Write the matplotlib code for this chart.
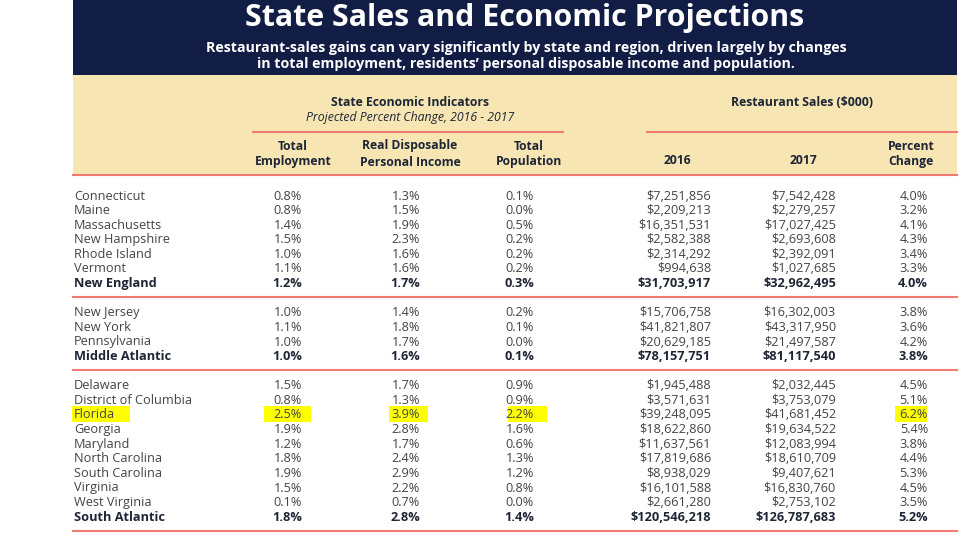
import matplotlib.pyplot as plt
from matplotlib.patches import Rectangle

# table data
names = ["Connecticut", "Maine", "Massachusetts", "New Hampshire", "Rhode Island", "Vermont", "New England",
         "New Jersey", "New York", "Pennsylvania", "Middle Atlantic",
         "Delaware", "District of Columbia", "Florida", "Georgia", "Maryland", "North Carolina",
         "South Carolina", "Virginia", "West Virginia", "South Atlantic"]
group = [0] * 7 + [1] * 4 + [2] * 10
is_total = [False] * 6 + [True] + [False] * 3 + [True] + [False] * 9 + [True]
employment = [0.8, 0.8, 1.4, 1.5, 1.0, 1.1, 1.2,
              1.0, 1.1, 1.0, 1.0,
              1.5, 0.8, 2.5, 1.9, 1.2, 1.8, 1.9, 1.5, 0.1, 1.8]
income = [1.3, 1.5, 1.9, 2.3, 1.6, 1.6, 1.7,
          1.4, 1.8, 1.7, 1.6,
          1.7, 1.3, 3.9, 2.8, 1.7, 2.4, 2.9, 2.2, 0.7, 2.8]
population = [0.1, 0.0, 0.5, 0.2, 0.2, 0.2, 0.3,
              0.2, 0.1, 0.0, 0.1,
              0.9, 0.9, 2.2, 1.6, 0.6, 1.3, 1.2, 0.8, 0.0, 1.4]
sales_2016 = [7251856, 2209213, 16351531, 2582388, 2314292, 994638, 31703917,
              15706758, 41821807, 20629185, 78157751,
              1945488, 3571631, 39248095, 18622860, 11637561, 17819686, 8938029, 16101588, 2661280, 120546218]
sales_2017 = [7542428, 2279257, 17027425, 2693608, 2392091, 1027685, 32962495,
              16302003, 43317950, 21497587, 81117540,
              2032445, 3753079, 41681452, 19634522, 12083994, 18610709, 9407621, 16830760, 2753102, 126787683]
pct_change = [4.0, 3.2, 4.1, 4.3, 3.4, 3.3, 4.0,
              3.8, 3.6, 4.2, 3.8,
              4.5, 5.1, 6.2, 5.4, 3.8, 4.4, 5.3, 4.5, 3.5, 5.2]
highlight = "Florida"

title = "State Sales and Economic Projections"
subtitle = ("Restaurant-sales gains can vary significantly by state and region, driven largely by changes\n"
            "in total employment, residents\u2019 personal disposable income and population.")

navy = "#111d45"
cream = "#f7e6b4"
red = "#f07b73"
txt = "#444444"
dark = "#1e2535"
font = ["Open Sans", "DejaVu Sans"]

fig = plt.figure(figsize=(9.74, 5.4), dpi=100)
ax = fig.add_axes([0, 0, 1, 1])
ax.set_xlim(0, 974)
ax.set_ylim(540, 0)
ax.axis("off")

# header blocks
ax.add_patch(Rectangle((73, 0), 884, 75, color=navy, lw=0))
ax.add_patch(Rectangle((73, 75), 884, 100, color=cream, lw=0))
ax.text(525, 18, title, color="white", fontsize=21.8, fontweight="bold", family=font,
        ha="center", va="center")
ax.text(526, 56, subtitle, color="white", fontsize=10.2, fontweight="bold", family=font,
        ha="center", va="center", linespacing=1.15)

ax.text(410, 102, "State Economic Indicators", color=dark, fontsize=8.8, fontweight="bold",
        family=font, ha="center", va="center")
ax.text(410, 117, "Projected Percent Change, 2016 - 2017", color=dark, fontsize=8.8, style="italic",
        family=font, ha="center", va="center")
ax.text(802, 102, "Restaurant Sales ($000)", color=dark, fontsize=8.8, fontweight="bold",
        family=font, ha="center", va="center")
ax.plot([253, 563], [132, 132], color=red, lw=1.5)
ax.plot([647, 957], [132, 132], color=red, lw=1.5)

col_heads = ["Total\nEmployment", "Real Disposable\nPersonal Income", "Total\nPopulation",
             "2016", "2017", "Percent\nChange"]
col_centers = [293, 410, 529, 677, 803, 911]
for h, xc in zip(col_heads, col_centers):
    ax.text(xc, 161 if "\n" not in h else 154, h, color=dark, fontsize=8.7, fontweight="bold",
            family=font, ha="center", va="center", linespacing=1.3)
ax.plot([73, 957], [175, 175], color=red, lw=1.5)

# body rows
row_h = 14.6
col_right = [302, 420, 534, 711, 836, 928]
for i, name in enumerate(names):
    y = 196 + row_h * (i + group[i])
    w = "bold" if is_total[i] else "normal"
    c = dark if is_total[i] else txt
    if name == highlight:
        for x0, x1 in [(72, 130), (264, 311), (389, 428), (508, 547), (895, 927)]:
            ax.add_patch(Rectangle((x0, y - 9), x1 - x0, 16, color="#ffff00", lw=0))
    cells = [f"{employment[i]:.1f}%", f"{income[i]:.1f}%", f"{population[i]:.1f}%",
             f"${sales_2016[i]:,}", f"${sales_2017[i]:,}", f"{pct_change[i]:.1f}%"]
    ax.text(74, y, name, color=c, fontsize=9.2, fontweight=w, family=font, ha="left", va="center")
    for s, xr in zip(cells, col_right):
        ax.text(xr, y, s, color=c, fontsize=9.2, fontweight=w, family=font, ha="right", va="center")
    if is_total[i]:
        ax.plot([73, 957], [y + 13.5, y + 13.5], color=red, lw=1.5)

fig.savefig("out.png", dpi=100)
